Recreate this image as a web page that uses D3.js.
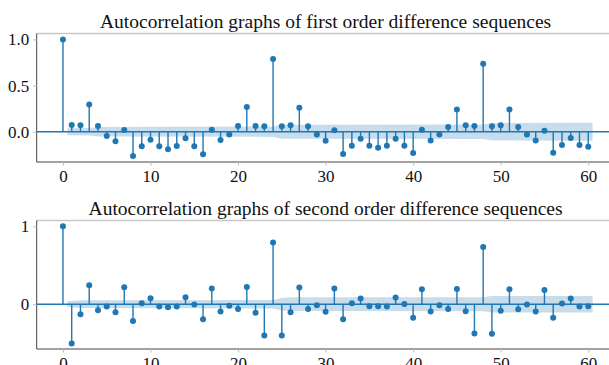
<!DOCTYPE html>
<html>
<head>
<meta charset="utf-8">
<script src="https://cdn.jsdelivr.net/npm/d3@7"></script>
<style>
  body { margin: 0; background: #fff; }
  svg text { font-family: 'Liberation Serif', 'Times New Roman', 'DejaVu Serif', serif; fill: #111; }
</style>
</head>
<body>
<script>
// acf values, lag 0..60
var lags = d3.range(0, 61);

var acfFirst = [1.0, 0.072, 0.07, 0.296, 0.062, -0.046, -0.104, 0.018, -0.263, -0.158,
  -0.086, -0.158, -0.19, -0.155, -0.072, -0.158, -0.245, 0.022, -0.09, -0.029,
  0.062, 0.267, 0.062, 0.058, 0.787, 0.058, 0.07, 0.26, 0.058, -0.029,
  -0.097, 0.015, -0.241, -0.151, -0.076, -0.151, -0.173, -0.151, -0.076, -0.151,
  -0.23, 0.022, -0.094, -0.029, 0.051, 0.242, 0.07, 0.062, 0.736, 0.058,
  0.07, 0.242, 0.051, -0.029, -0.094, 0.011, -0.227, -0.144, -0.068, -0.144,
  -0.162];

var acfSecond = [1.0, -0.504, -0.128, 0.244, -0.077, -0.03, -0.103, 0.218, -0.214, 0.013,
  0.077, -0.03, -0.038, -0.03, 0.09, -0.004, -0.192, 0.201, -0.094, -0.021,
  -0.06, 0.222, -0.111, -0.402, 0.791, -0.402, -0.103, 0.214, -0.06, -0.013,
  -0.098, 0.201, -0.192, 0.013, 0.073, -0.026, -0.026, -0.03, 0.086, 0.004,
  -0.175, 0.192, -0.094, -0.013, -0.06, 0.197, -0.09, -0.376, 0.735, -0.38,
  -0.085, 0.192, -0.064, -0.004, -0.094, 0.184, -0.175, 0.009, 0.073, -0.03,
  -0.026];

// confidence band (half width) at a few lags
var bandLagsFirst = [0.5, 3, 4, 24, 25, 48, 49, 60.5];
var bandHalfFirst = [0.037, 0.04, 0.052, 0.056, 0.075, 0.078, 0.095, 0.097];
var bandLagsSecond = [0.5, 1, 2, 24, 25, 26, 48, 49, 60.5];
var bandHalfSecond = [0.04, 0.04, 0.05, 0.055, 0.08, 0.088, 0.09, 0.105, 0.105];

var xTicks = [0, 10, 20, 30, 40, 50, 60];
var yTicksFirst = [0, 0.5, 1.0];
var yTicksSecond = [0, 1];

var titleFirst = 'Autocorrelation graphs of first order difference sequences';
var titleSecond = 'Autocorrelation graphs of second order difference sequences';

var width = 609;
var height = 365;
var blue = '#1f77b4';
var serif = "'Liberation Serif', 'Times New Roman', 'DejaVu Serif', serif";

var svg = d3.select('body').append('svg')
  .attr('width', width)
  .attr('height', height);

var x = d3.scaleLinear().domain([-3, 63]).range([36.7, 614.5]);

function drawPanel(opts) {
  var y = d3.scaleLinear().domain(opts.yDomain).range([opts.bottom, opts.top]);
  var g = svg.append('g');

  // band
  var band = opts.bandLags.map(function(l, i) { return [l, opts.bandHalf[i]]; });
  g.append('path')
    .datum(band)
    .attr('fill', blue)
    .attr('fill-opacity', 0.25)
    .attr('d', d3.area()
      .x(function(d) { return x(d[0]); })
      .y0(function(d) { return y(-d[1]); })
      .y1(function(d) { return y(d[1]); }));

  // zero line
  g.append('line')
    .attr('x1', x(-3)).attr('x2', width)
    .attr('y1', y(0)).attr('y2', y(0))
    .attr('stroke', blue).attr('stroke-width', 1.6);

  // stems
  g.selectAll('.stem').data(opts.values).enter().append('line')
    .attr('x1', function(d, i) { return x(lags[i]); })
    .attr('x2', function(d, i) { return x(lags[i]); })
    .attr('y1', y(0))
    .attr('y2', function(d) { return y(d); })
    .attr('stroke', blue).attr('stroke-width', 1.4);

  g.selectAll('.dot').data(opts.values).enter().append('circle')
    .attr('cx', function(d, i) { return x(lags[i]); })
    .attr('cy', function(d) { return y(d); })
    .attr('r', 3)
    .attr('fill', blue);

  // spines
  g.append('line').attr('x1', x(-3)).attr('x2', width)
    .attr('y1', opts.top).attr('y2', opts.top)
    .attr('stroke', '#c8c8c8').attr('stroke-width', 1.5);
  g.append('line').attr('x1', x(-3)).attr('x2', x(-3))
    .attr('y1', opts.top).attr('y2', opts.bottom)
    .attr('stroke', '#444').attr('stroke-width', 1);
  g.append('line').attr('x1', x(-3)).attr('x2', width)
    .attr('y1', opts.bottom).attr('y2', opts.bottom)
    .attr('stroke', '#444').attr('stroke-width', 1);

  // axes
  var xAxis = d3.axisBottom(x).tickValues(xTicks).tickSize(3.5).tickPadding(4);
  var gx = g.append('g').attr('transform', 'translate(0,' + opts.bottom + ')').call(xAxis);
  var yAxis = d3.axisLeft(y).tickValues(opts.yTicks).tickSize(3.5).tickPadding(4)
    .tickFormat(opts.yFormat);
  var gy = g.append('g').attr('transform', 'translate(' + x(-3) + ',0)').call(yAxis);
  [gx, gy].forEach(function(a) {
    a.attr('font-family', serif).attr('font-size', 17);
    a.select('.domain').remove();
    a.selectAll('.tick line').attr('stroke', '#bbb');
    a.selectAll('.tick text').style('font-family', serif).style('font-size', '17px')
      .attr('fill', '#111');
  });

  g.append('text')
    .attr('x', (x(-3) + x(63)) / 2)
    .attr('y', opts.titleY)
    .attr('text-anchor', 'middle')
    .style('font-family', serif)
    .style('font-size', '19.5px')
    .text(opts.title);
}

drawPanel({
  values: acfFirst, yDomain: [-0.328, 1.064], top: 33.5, bottom: 162,
  bandLags: bandLagsFirst, bandHalf: bandHalfFirst,
  yTicks: yTicksFirst, yFormat: d3.format('.1f'),
  title: titleFirst, titleY: 27.5
});

drawPanel({
  values: acfSecond, yDomain: [-0.575, 1.075], top: 220.5, bottom: 349,
  bandLags: bandLagsSecond, bandHalf: bandHalfSecond,
  yTicks: yTicksSecond, yFormat: d3.format('d'),
  title: titleSecond, titleY: 214.5
});
</script>
</body>
</html>
